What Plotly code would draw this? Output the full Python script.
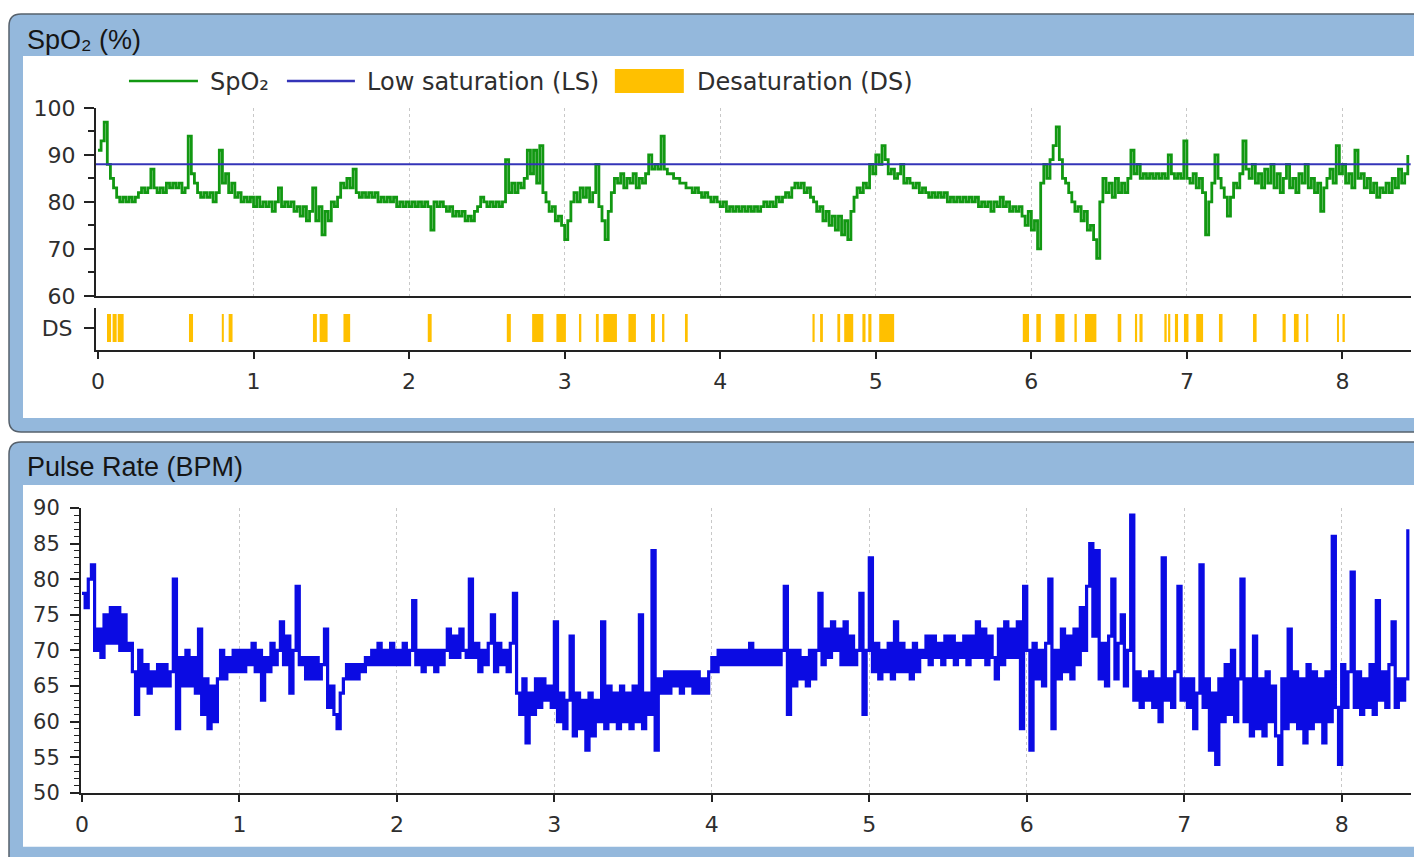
import plotly.graph_objects as go

W, H = 1414, 857
STEP_H = 0.02  # hours between samples

# ---------------- data ----------------
spo2 = [
    # hour 0
    91, 93, 97, 88, 85, 83, 81, 80, 81, 80, 81, 80, 81, 82, 83, 82, 83, 87, 83, 82,
    83, 82, 84, 83, 84, 83, 84, 82, 83, 94, 86, 84, 82, 81, 82, 81, 82, 80, 82, 91,
    84, 86, 82, 84, 81, 82, 80, 81, 80, 81,
    # hour 1
    79, 81, 79, 80, 79, 80, 78, 80, 83, 79, 80, 79, 80, 78, 79, 77, 79, 76, 78, 83,
    76, 79, 73, 78, 76, 80, 79, 81, 84, 83, 85, 83, 87, 82, 81, 82, 81, 82, 81, 82,
    80, 81, 80, 81, 80, 81, 79, 80, 79, 80,
    # hour 2
    79, 80, 79, 80, 79, 80, 79, 74, 80, 79, 80, 79, 78, 79, 77, 78, 77, 78, 76, 77,
    76, 78, 79, 81, 80, 79, 80, 79, 80, 79, 80, 89, 82, 84, 82, 84, 83, 85, 91, 86,
    91, 84, 92, 82, 80, 78, 79, 76, 77, 75,
    # hour 3
    72, 76, 80, 82, 80, 83, 81, 83, 80, 82, 88, 79, 76, 72, 78, 82, 85, 84, 86, 83,
    85, 84, 86, 83, 85, 84, 86, 90, 87, 88, 87, 94, 87, 86, 86, 85, 85, 84, 84, 83,
    83, 82, 83, 82, 81, 82, 81, 80, 81, 80,
    # hour 4
    79, 80, 78, 79, 78, 79, 78, 79, 78, 79, 78, 79, 78, 79, 80, 79, 80, 79, 81, 80,
    81, 82, 81, 83, 84, 83, 84, 82, 83, 81, 80, 78, 79, 76, 78, 75, 77, 74, 77, 73,
    76, 72, 78, 81, 83, 82, 84, 83, 88, 86,
    # hour 5
    90, 88, 92, 89, 86, 87, 85, 86, 88, 84, 85, 84, 83, 84, 82, 83, 82, 81, 82, 81,
    82, 81, 82, 80, 81, 80, 81, 80, 81, 80, 81, 80, 81, 79, 80, 79, 80, 78, 80, 79,
    81, 79, 80, 78, 79, 78, 79, 77, 75, 78,
    # hour 6
    74, 76, 70, 84, 88, 85, 89, 92, 96, 89, 85, 84, 82, 80, 78, 79, 76, 78, 74, 75,
    72, 68, 80, 85, 82, 84, 81, 85, 82, 84, 82, 85, 91, 86, 88, 85, 86, 85, 86, 85,
    86, 85, 86, 85, 90, 86, 85, 86, 85, 93,
    # hour 7
    85, 84, 86, 83, 85, 82, 73, 80, 84, 90, 85, 83, 81, 77, 81, 84, 83, 86, 93, 87,
    85, 88, 84, 86, 83, 87, 84, 88, 83, 86, 82, 85, 88, 83, 85, 82, 86, 84, 88, 83,
    85, 82, 84, 78, 83, 85, 87, 84, 92, 86,
    # hour 8
    88, 84, 86, 83, 91, 85, 86, 83, 85, 82, 84, 81, 83, 82, 84, 82, 85, 83, 87, 84,
    86, 90,
]

pulse = [
    # hour 0
    78, 76, 80, 82, 70, 73, 69, 75, 71, 76, 71, 76, 70, 75, 70, 71, 67, 61, 70, 65,
    68, 64, 67, 65, 68, 65, 68, 65, 67, 80, 59, 69, 65, 70, 65, 69, 64, 73, 61, 66,
    59, 65, 60, 66, 70, 66, 69, 67, 70, 67,
    # hour 1
    70, 67, 70, 68, 71, 67, 70, 63, 69, 67, 71, 68, 70, 74, 68, 72, 64, 70, 79, 68,
    69, 66, 69, 66, 69, 66, 68, 73, 62, 65, 61, 59, 64, 66, 68, 66, 68, 66, 68, 67,
    69, 68, 70, 68, 71, 68, 70, 68, 71, 68,
    # hour 2
    70, 68, 71, 68, 70, 77, 68, 70, 67, 70, 68, 70, 67, 70, 68, 70, 73, 69, 72, 69,
    73, 70, 69, 80, 69, 71, 67, 70, 68, 71, 75, 67, 71, 68, 70, 67, 71, 78, 64, 61,
    66, 57, 64, 61, 66, 62, 66, 63, 65, 62,
    # hour 3
    74, 60, 64, 59, 63, 72, 58, 64, 59, 63, 56, 64, 58, 63, 60, 74, 59, 65, 60, 64,
    59, 65, 60, 64, 59, 65, 60, 75, 59, 64, 61, 84, 56, 66, 64, 67, 64, 67, 65, 67,
    64, 67, 65, 67, 64, 67, 64, 66, 64, 67,
    # hour 4
    69, 67, 70, 68, 70, 68, 70, 68, 70, 68, 70, 68, 71, 68, 70, 68, 70, 68, 70, 68,
    70, 68, 70, 79, 61, 70, 65, 70, 66, 69, 65, 70, 66, 70, 78, 68, 73, 69, 74, 70,
    73, 68, 74, 68, 72, 68, 70, 78, 61, 70,
    # hour 5
    83, 67, 71, 66, 70, 67, 71, 66, 74, 67, 71, 67, 70, 66, 71, 67, 70, 69, 72, 68,
    72, 69, 71, 68, 72, 69, 72, 68, 71, 69, 72, 68, 72, 69, 74, 69, 73, 68, 72, 69,
    66, 73, 68, 74, 69, 73, 69, 74, 59, 79,
    # hour 6
    70, 56, 71, 66, 70, 65, 71, 80, 59, 70, 66, 73, 67, 72, 66, 73, 68, 76, 70, 79,
    85, 72, 84, 66, 71, 65, 72, 80, 66, 71, 75, 65, 70, 89, 63, 67, 62, 66, 63, 67,
    62, 66, 60, 83, 63, 66, 62, 67, 79, 63,
    # hour 7
    66, 62, 66, 59, 64, 82, 62, 66, 56, 64, 54, 66, 60, 68, 61, 70, 60, 66, 80, 60,
    66, 58, 72, 59, 66, 58, 67, 60, 65, 58, 54, 66, 59, 73, 60, 67, 59, 66, 57, 68,
    59, 67, 60, 66, 57, 67, 60, 86, 62, 54,
    # hour 8
    68, 62, 67, 81, 62, 67, 61, 66, 62, 68, 61, 77, 63, 67, 62, 68, 74, 62, 66, 63,
    66, 87,
]

LS_LEVEL = 88  # low saturation threshold (%)

ds_start = [0.058, 0.094, 0.127, 0.585, 0.796, 0.84, 1.382, 1.425, 1.578, 2.12,
            2.628, 2.791, 2.947, 3.092, 3.201, 3.249, 3.41, 3.555, 3.626, 3.779,
            4.593, 4.642, 4.753, 4.797, 4.914, 4.952, 5.022, 5.945, 6.032, 6.155,
            6.277, 6.345, 6.555, 6.666, 6.695, 6.855, 6.879, 6.923, 6.981, 7.06,
            7.206, 7.425, 7.615, 7.688, 7.766, 7.965, 8.0]
ds_end = [0.084, 0.12, 0.165, 0.611, 0.809, 0.865, 1.407, 1.476, 1.621, 2.145,
          2.654, 2.863, 3.008, 3.107, 3.219, 3.336, 3.458, 3.58, 3.641, 3.791,
          4.607, 4.66, 4.771, 4.855, 4.934, 4.972, 5.118, 5.985, 6.061, 6.213,
          6.292, 6.418, 6.578, 6.68, 6.715, 6.87, 6.893, 6.943, 7.01, 7.104,
          7.229, 7.448, 7.635, 7.718, 7.78, 7.977, 8.015]

hour_ticks = [0, 1, 2, 3, 4, 5, 6, 7, 8]
spo2_ticks = [60, 70, 80, 90, 100]
pulse_ticks = [50, 55, 60, 65, 70, 75, 80, 85, 90]

# ---------------- styling ----------------
FONT = "DejaVu Sans, Verdana, sans-serif"
TITLE_FONT = "Liberation Sans, Arial, sans-serif"
AXC = "#222222"
TXT = "#2e2e2e"
PANEL_BLUE = "#94B8DC"
BORDER = "#56616c"
GREEN = "#129812"
PULSE_BLUE = "#0B0BE3"
LS_BLUE = "#3434B8"
DS_ORANGE = "#FFC000"
GRID = "#c8c8c8"

# the captured page comes out slightly offset/scaled relative to the figure;
# positions below are given in target-picture pixels and mapped back.
OX, SX = 5.0, 0.996
OY, SY = 12.0, 0.971


def px(x):
    return ((x - OX) / SX) / W


def py(y):
    return 1 - ((y - OY) / SY) / H


def rrect_left(x0, y0, x1, y1, r):
    return (f"M {px(x0 + r)},{py(y0)} L {px(x1)},{py(y0)} L {px(x1)},{py(y1)} "
            f"L {px(x0 + r)},{py(y1)} Q {px(x0)},{py(y1)} {px(x0)},{py(y1 - r)} "
            f"L {px(x0)},{py(y0 + r)} Q {px(x0)},{py(y0)} {px(x0 + r)},{py(y0)} Z")


fig = go.Figure()

fig.add_trace(go.Scatter(
    x0=0, dx=STEP_H, y=spo2, mode="lines",
    line=dict(color=GREEN, width=2.8, shape="hv"),
    xaxis="x", yaxis="y", hoverinfo="skip", name="SpO₂"))

fig.add_trace(go.Bar(
    x=ds_start, y=[1] * len(ds_start),
    width=[e - s for s, e in zip(ds_start, ds_end)], offset=0, base=0,
    marker=dict(color=DS_ORANGE, line=dict(width=0)),
    xaxis="x2", yaxis="y2", hoverinfo="skip", name="Desaturation (DS)"))

fig.add_trace(go.Scatter(
    x0=0, dx=STEP_H, y=pulse, mode="lines",
    line=dict(color=PULSE_BLUE, width=3.2, shape="hv"),
    xaxis="x3", yaxis="y3", hoverinfo="skip", name="Pulse Rate"))

shapes = [
    dict(type="path", xref="paper", yref="paper", path=rrect_left(8, 14, 1460, 432, 12),
         fillcolor=PANEL_BLUE, line=dict(color=BORDER, width=1.5), layer="below"),
    dict(type="rect", xref="paper", yref="paper", x0=px(22), x1=px(1460), y0=py(418), y1=py(56),
         fillcolor="white", line=dict(width=0), layer="below"),
    dict(type="path", xref="paper", yref="paper", path=rrect_left(8, 442, 1460, 900, 12),
         fillcolor=PANEL_BLUE, line=dict(color=BORDER, width=1.5), layer="below"),
    dict(type="rect", xref="paper", yref="paper", x0=px(22), x1=px(1460), y0=py(847), y1=py(485),
         fillcolor="white", line=dict(width=0), layer="below"),
    dict(type="line", xref="x domain", yref="y", x0=0, x1=1, y0=LS_LEVEL, y1=LS_LEVEL,
         line=dict(color=LS_BLUE, width=2)),
    dict(type="line", xref="paper", yref="paper", x0=px(128), x1=px(197), y0=py(81), y1=py(81),
         line=dict(color=GREEN, width=2.5)),
    dict(type="line", xref="paper", yref="paper", x0=px(286), x1=px(354), y0=py(81), y1=py(81),
         line=dict(color=LS_BLUE, width=2.5)),
    dict(type="rect", xref="paper", yref="paper", x0=px(614), x1=px(683), y0=py(93), y1=py(69),
         fillcolor=DS_ORANGE, line=dict(width=0)),
]

annotations = [
    dict(text="SpO₂ (%)", x=px(24), y=py(40), xref="paper", yref="paper",
         xanchor="left", yanchor="middle", showarrow=False,
         font=dict(family=TITLE_FONT, size=27, color="#151515")),
    dict(text="Pulse Rate (BPM)", x=px(24), y=py(467), xref="paper", yref="paper",
         xanchor="left", yanchor="middle", showarrow=False,
         font=dict(family=TITLE_FONT, size=27, color="#151515")),
    dict(text="SpO₂", x=px(207), y=py(82), xref="paper", yref="paper",
         xanchor="left", yanchor="middle", showarrow=False,
         font=dict(family=FONT, size=24, color=TXT)),
    dict(text="Low saturation (LS)", x=px(364), y=py(82), xref="paper", yref="paper",
         xanchor="left", yanchor="middle", showarrow=False,
         font=dict(family=FONT, size=24, color=TXT)),
    dict(text="Desaturation (DS)", x=px(694), y=py(82), xref="paper", yref="paper",
         xanchor="left", yanchor="middle", showarrow=False,
         font=dict(family=FONT, size=24, color=TXT)),
]

font_y1 = dict(family=FONT, size=22, color=TXT)
font_y3 = dict(family=FONT, size=21, color=TXT)
font_x = dict(family=FONT, size=22, color=TXT)


def hour_at(xpix, zero_pix, pix_per_hour):
    return (xpix - zero_pix) / pix_per_hour


# spo2/ds panel: 0 h at x=97, 155.6 px per hour; pulse panel: 0 h at x=81, 157.5 px per hour
X_RANGE_TOP = [hour_at(95, 97, 155.6), hour_at(1410, 97, 155.6)]
X_RANGE_BOT = [hour_at(80, 81, 157.5), hour_at(1410, 81, 157.5)]

fig.update_layout(
    width=W, height=H, margin=dict(l=0, r=0, t=0, b=0),
    paper_bgcolor="white", plot_bgcolor="rgba(0,0,0,0)",
    showlegend=False, shapes=shapes, annotations=annotations,
    xaxis=dict(domain=[px(95), px(1410)], range=X_RANGE_TOP, anchor="y",
               tickvals=hour_ticks[1:], showticklabels=False, ticks="",
               showline=True, linecolor=AXC, linewidth=2,
               showgrid=True, gridcolor=GRID, griddash="dot", gridwidth=1,
               zeroline=False, fixedrange=True),
    yaxis=dict(domain=[py(296), py(108)], range=[60, 100], anchor="x",
               tickvals=spo2_ticks, ticks="outside", ticklen=10, tickwidth=1.5, tickcolor=AXC,
               minor=dict(dtick=5, tick0=60, ticks="outside", ticklen=6, tickwidth=1.5, tickcolor=AXC),
               showline=True, linecolor=AXC, linewidth=2, showgrid=False, zeroline=False,
               tickfont=font_y1, ticklabelstandoff=4, fixedrange=True),
    xaxis2=dict(domain=[px(95), px(1410)], range=X_RANGE_TOP, anchor="y2",
                tickvals=hour_ticks, ticks="outside", ticklen=7, tickwidth=2, tickcolor=AXC,
                showline=True, linecolor=AXC, linewidth=2, showgrid=False, zeroline=False,
                tickfont=font_x, ticklabelstandoff=4, fixedrange=True),
    yaxis2=dict(domain=[py(350), py(308)], range=[-0.286, 1.214], anchor="x2",
                tickvals=[0.5], ticktext=["DS"], ticks="outside", ticklen=10, tickwidth=1.5,
                tickcolor=AXC, showline=True, linecolor=AXC, linewidth=2, showgrid=False,
                zeroline=False, tickfont=font_y1, ticklabelstandoff=7, fixedrange=True),
    xaxis3=dict(domain=[px(80), px(1410)], range=X_RANGE_BOT, anchor="y3",
                tickvals=hour_ticks, ticks="outside", ticklen=7, tickwidth=2, tickcolor=AXC,
                showline=True, linecolor=AXC, linewidth=2,
                showgrid=True, gridcolor=GRID, griddash="dot", gridwidth=1, zeroline=False,
                tickfont=font_x, ticklabelstandoff=4, fixedrange=True),
    yaxis3=dict(domain=[py(793), py(508)], range=[50, 90], anchor="x3",
                tickvals=pulse_ticks, ticks="outside", ticklen=9, tickwidth=1.5, tickcolor=AXC,
                minor=dict(dtick=1, tick0=50, ticks="outside", ticklen=5, tickwidth=1.2, tickcolor=AXC),
                showline=True, linecolor=AXC, linewidth=2, showgrid=False, zeroline=False,
                tickfont=font_y3, ticklabelstandoff=6, fixedrange=True),
)

PIN_SCRIPT = (
    "var d=document.getElementById('{plot_id}');"
    "document.documentElement.style.margin='0';document.documentElement.style.padding='0';"
    "document.documentElement.style.overflow='hidden';"
    "document.body.style.margin='0';document.body.style.padding='0';"
    "document.body.style.overflow='hidden';"
    "if(d){d.style.position='fixed';d.style.left='0px';d.style.top='0px';}"
    "window.scrollTo(0,0);"
)

fig.write_html("out.html", config={"displayModeBar": False}, post_script=PIN_SCRIPT)
